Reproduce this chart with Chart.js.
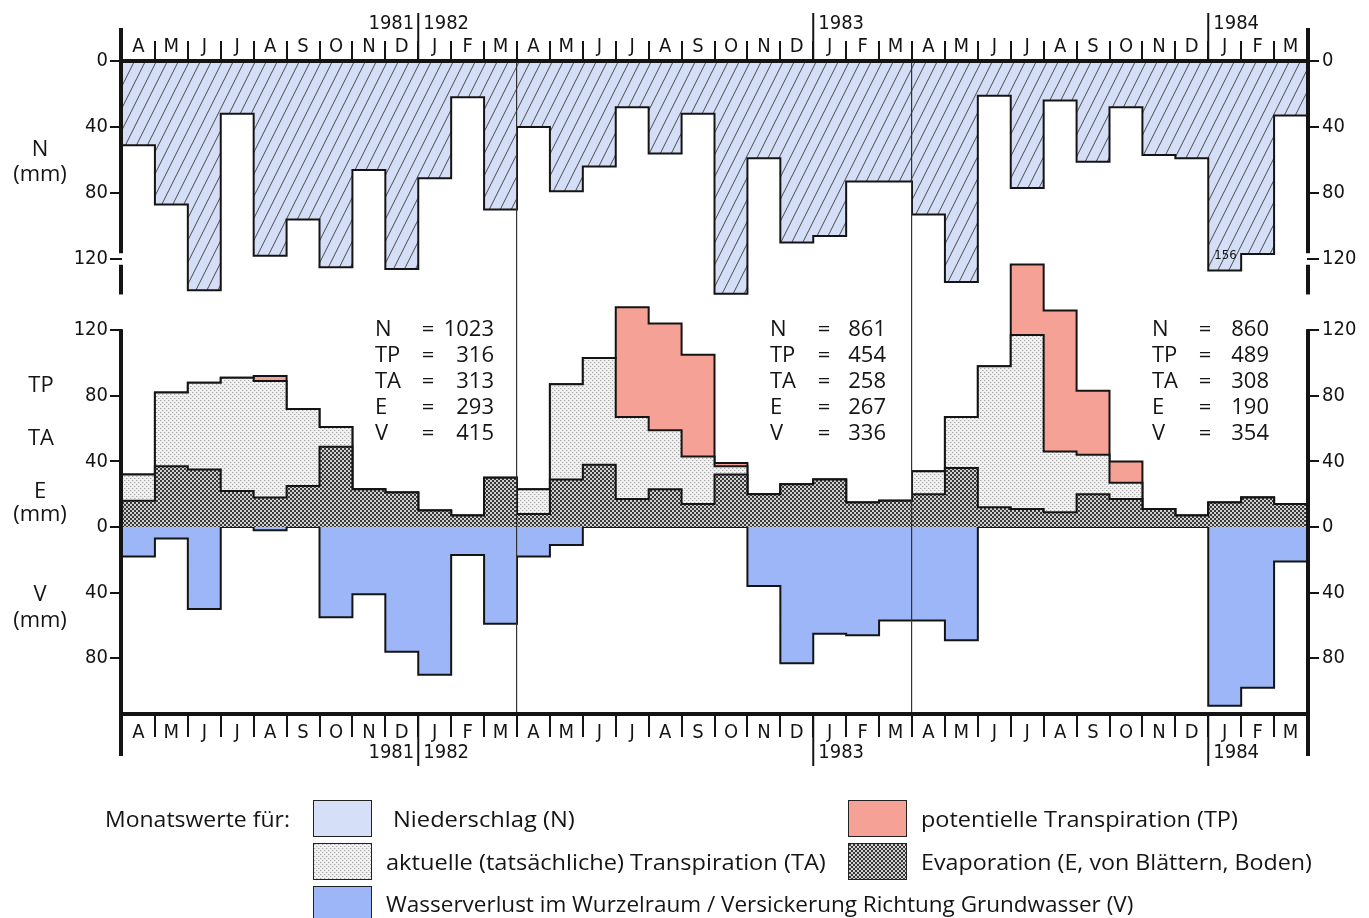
<!DOCTYPE html>
<html><head><meta charset="utf-8">
<script src="https://cdn.jsdelivr.net/npm/chart.js@4"></script>
<style>
html,body{margin:0;padding:0;background:#fff;}
#wrap{position:relative;width:1369px;height:918px;overflow:hidden;background:#fff;}
#c{position:absolute;left:0;top:0;}
.t{position:absolute;white-space:nowrap;font-family:'Open Sans','Noto Sans',sans-serif;font-size:22px;line-height:26px;color:#151515;transform:translateY(-50%);transform-origin:0 50%;}
.c{transform:translate(-50%,-50%);}
.r{transform:translate(-100%,-50%);}
.box{position:absolute;border:1.6px solid #222;box-sizing:border-box;}
</style></head>
<body><div id="wrap"><canvas id="c" width="1369" height="918"></canvas></div>
<script>
// ---------------- data (Apr 1981 ... Mar 1984, monthly, mm) ----------------
const monthLabels = ['A','M','J','J','A','S','O','N','D','J','F','M',
                     'A','M','J','J','A','S','O','N','D','J','F','M',
                     'A','M','J','J','A','S','O','N','D','J','F','M'];
const precipN  = [51,87,139,32,118,96,125,66,126,71,22,90,
                  40,79,64,28,56,32,141,59,110,106,73,73,
                  93,134,21,77,24,61,28,57,59,156,117,33];
const evapE    = [16,37,35,22,18,25,49,23,21,10,7,30,
                  8,29,38,17,23,14,32,20,26,29,15,16,
                  20,36,12,11,9,20,17,11,7,15,18,14];
const transpTA = [16,45,53,69,71,47,12,0,0,0,0,0,
                  15,58,65,50,36,29,5,0,0,0,0,0,
                  14,31,86,106,37,24,10,0,0,0,0,0];
const transpTP = [16,45,53,69,74,47,12,0,0,0,0,0,
                  15,58,65,117,101,91,7,0,0,0,0,0,
                  14,31,86,149,123,63,23,0,0,0,0,0];
const seepV    = [18,7,50,0,2,0,55,41,76,90,17,59,
                  18,11,0,0,0,0,0,36,83,65,66,57,
                  57,69,0,0,0,0,0,0,0,109,98,21];
const nTicks = [0,40,80,120];
const mTicks = [-80,-40,0,40,80,120];
const yearBounds = [{at:9, left:'1981', right:'1982'},{at:21, right:'1983'},{at:33, right:'1984'}];
const totals = [
  {N:'1023', TP:'316', TA:'313', E:'293', V:'415'},
  {N:'861',  TP:'454', TA:'258', E:'267', V:'336'},
  {N:'860',  TP:'489', TA:'308', E:'190', V:'354'}
];
const N_AXIS_END = 141.5;  // lower end of the N axis
const N_BREAK_CAP = 127;   // a bar beyond the axis end is cut here
// ---------------------------------------------------------------------------

function makeTile(w,h,draw){const c=document.createElement('canvas');c.width=w;c.height=h;draw(c.getContext('2d'));return c;}
const hatchTile = makeTile(11,22,g=>{
  g.fillStyle='#d4def6';g.fillRect(0,0,11,22);
  g.strokeStyle='#4a4a4a';g.lineWidth=1;
  for(const dx of [-11,0,11]){g.beginPath();g.moveTo(dx-0.5,23);g.lineTo(dx+11.5,-1);g.stroke();}
});
const eTile = makeTile(4,4,g=>{
  g.fillStyle='#d0d0d0';g.fillRect(0,0,4,4);
  g.fillStyle='#383838';g.fillRect(0,0,2,2);g.fillRect(2,2,2,2);
});
const taTile = makeTile(4,4,g=>{
  g.fillStyle='#f1f1f1';g.fillRect(0,0,4,4);
  g.fillStyle='#a8a8a8';g.fillRect(0,0,1,1);g.fillRect(2,2,1,1);
  g.fillStyle='#d4d4d4';g.fillRect(1,0,1,1);g.fillRect(3,2,1,1);
});
const ctx0 = document.getElementById('c').getContext('2d');
const hatch = ctx0.createPattern(hatchTile,'repeat');
const ePat = ctx0.createPattern(eTile,'repeat');
const taPat = ctx0.createPattern(taTile,'repeat');
const RED = '#f5a196', BLUE_V = '#9db6f7', BLUE_N = '#d5e0f8';

const stepData = arr => arr.map((v,i)=>({x:i,y:v})).concat([{x:arr.length,y:arr[arr.length-1]}]);
const nShown = precipN.map(v=>v>N_AXIS_END?N_BREAK_CAP:v);
const eTop  = evapE.slice();
const taTop = evapE.map((e,i)=>e+transpTA[i]);
const tpTop = evapE.map((e,i)=>e+transpTP[i]);
const vNeg  = seepV.map(v=>-v);

const base = {stepped:'before',pointRadius:0,pointHoverRadius:0,borderColor:'#141414',borderWidth:2,
              borderJoinStyle:'miter',borderCapStyle:'butt',xAxisID:'x'};
const tickFont = {family:"'DejaVu Sans Condensed','Liberation Sans',sans-serif",size:20};
const INK = '#141414';
const AXIS_W = 60;

// N axis: 0 at the top edge, 1.65 px/mm ; M axis (TP/TA/E up, V down): 0 at 527, 1.64 px/mm
function yAxis(pos, isN){
  return {
    type:'linear', position:pos, weight:isN?1:0,
    reverse:isN, min:isN?0:-114, max:isN?395.76:284.1,
    afterBuildTicks:s=>{s.ticks=(isN?nTicks:mTicks).map(v=>({value:v}));},
    afterFit:s=>{s.width=isN?AXIS_W:0;},
    border:{display:false},
    grid:{drawOnChartArea:false,drawTicks:true,tickLength:12,color:INK,lineWidth:2},
    ticks:{font:tickFont,color:INK,padding:pos==='left'?2:3,callback:v=>Math.abs(v)}
  };
}

// the two value axes share one side: widen the inner (zero-width) one so its labels are not clipped
const shareSide = {
  id:'shareSide',
  afterLayout(chart){
    const sL=chart.scales.yM, sR=chart.scales.yM2;
    sL.left=sL.right-AXIS_W; sL.width=AXIS_W;
    sR.right=sR.left+AXIS_W; sR.width=AXIS_W;
  }
};

const decor = {
  id:'decor',
  afterDraw(chart){
    const {ctx, chartArea:a, scales} = chart;
    const x=scales.x, yN=scales.yN, yM=scales.yM;
    const L=(x1,y1,x2,y2,w)=>{ctx.lineWidth=w;ctx.beginPath();ctx.moveTo(x1,y1);ctx.lineTo(x2,y2);ctx.stroke();};
    ctx.save();
    ctx.strokeStyle=INK; ctx.fillStyle=INK; ctx.lineCap='butt';
    const y0N=yN.getPixelForValue(0);
    L(a.left-3,y0N,a.right+3,y0N,4);
    L(a.left-3,a.bottom,a.right+3,a.bottom,4);
    const b1=yN.getPixelForValue(116.5), b2=yN.getPixelForValue(123.5), bEnd=yN.getPixelForValue(N_AXIS_END);
    for(const xx of [a.left-1,a.right+1]){
      L(xx,28,xx,b1,4); L(xx,b2,xx,bEnd,4);
      L(xx,yM.getPixelForValue(120)-1,xx,756,4);
    }
    ctx.font = "20px 'DejaVu Sans Condensed','Liberation Sans',sans-serif";
    ctx.textBaseline='middle';
    for(const yb of yearBounds){
      const px=x.getPixelForValue(yb.at);
      L(px,13,px,y0N,2);
      L(px,a.bottom,px,766,2);
      if(yb.left){ctx.textAlign='right';ctx.fillText(yb.left,px-4,24);ctx.fillText(yb.left,px-4,753);}
      if(yb.right){ctx.textAlign='left';ctx.fillText(yb.right,px+5,24);ctx.fillText(yb.right,px+5,753);}
    }
    const iCut = precipN.findIndex(v=>v>N_AXIS_END);
    if(iCut>=0){
      ctx.font="13px 'DejaVu Sans Condensed','Liberation Sans',sans-serif";
      ctx.textAlign='left';
      ctx.fillText(String(precipN[iCut]), x.getPixelForValue(iCut)+6, yN.getPixelForValue(118));
    }
    ctx.restore();
  }
};

new Chart(ctx0,{
  type:'line',
  data:{datasets:[
    {...base, label:'N', data:stepData(nShown), yAxisID:'yN', fill:'origin', backgroundColor:hatch},
    {...base, label:'E', data:stepData(eTop), yAxisID:'yM', fill:'origin', backgroundColor:ePat},
    {...base, label:'TA', data:stepData(taTop), yAxisID:'yM', fill:'-1', backgroundColor:taPat},
    {...base, label:'TP', data:stepData(tpTop), yAxisID:'yM', fill:'-1', backgroundColor:RED},
    {...base, label:'V', data:stepData(vNeg), yAxisID:'yM', fill:'origin', backgroundColor:BLUE_V}
  ]},
  options:{
    responsive:false, animation:false, events:[],
    layout:{padding:{left:62,right:2,top:36,bottom:918-714-31}},
    plugins:{legend:{display:false},tooltip:{enabled:false}},
    scales:{
      x:{type:'linear',min:0,max:36,position:'bottom',
         afterBuildTicks:s=>{s.ticks=[12,24].map(v=>({value:v}));},
         afterFit:s=>{s.height=0;},
         ticks:{display:false},border:{display:false},
         grid:{drawTicks:false,color:'#333',lineWidth:1.2,z:1}},
      xt:{type:'category',labels:monthLabels,position:'top',offset:true,
         afterFit:s=>{s.height=25;},
         border:{display:false},
         grid:{offset:true,drawOnChartArea:false,drawTicks:true,tickLength:20,color:INK,lineWidth:2},
         ticks:{font:tickFont,color:INK,padding:-18,autoSkip:false,maxRotation:0}},
      xb:{type:'category',labels:monthLabels,position:'bottom',offset:true,
         afterFit:s=>{s.height=31;},
         border:{display:false},
         grid:{offset:true,drawOnChartArea:false,drawTicks:true,tickLength:23,color:INK,lineWidth:2},
         ticks:{font:tickFont,color:INK,padding:-16,autoSkip:false,maxRotation:0}},
      yN:yAxis('left',true),
      yM:yAxis('left',false),
      yN2:yAxis('right',true),
      yM2:yAxis('right',false)
    }
  },
  plugins:[shareSide,decor]
});

// ---------------- HTML text ----------------
const wrap=document.getElementById('wrap');
function txt(s,x,y,cls,w){
  const d=document.createElement('div');d.className='t'+(cls?' '+cls:'');d.textContent=s;
  d.style.left=x+'px';d.style.top=y+'px';wrap.appendChild(d);
  if(w){const k=w/d.offsetWidth;d.style.transform='translateY(-50%) scaleX('+k.toFixed(3)+')';}
  return d;
}
function box(x,y,w,h,bg){const d=document.createElement('div');d.className='box';Object.assign(d.style,{left:x+'px',top:y+'px',width:w+'px',height:h+'px',background:bg});wrap.appendChild(d);}

txt('N',40,147,'c'); txt('(mm)',40,172,'c');
txt('TP',41,383,'c'); txt('TA',41,436,'c'); txt('E',40,489,'c'); txt('(mm)',40,512,'c');
txt('V',40,592,'c'); txt('(mm)',40,618,'c');

const rowKeys=['N','TP','TA','E','V'], rowY=[327,353,379,405,431];
const blocks=[{l:375,eq:428,r:494},{l:770,eq:824,r:886},{l:1152,eq:1205,r:1269}];
blocks.forEach((b,k)=>{
  rowKeys.forEach((key,j)=>{
    txt(key,b.l,rowY[j]);
    txt('=',b.eq,rowY[j],'c');
    txt(totals[k][key],b.r,rowY[j],'r');
  });
});

txt('Monatswerte für:',105,818,'',185);
box(313,800,59,37,BLUE_N);
box(313,843,59,37,'url('+taTile.toDataURL()+') repeat');
box(313,886,59,40,BLUE_V);
box(848,800,59,37,RED);
box(848,843,59,37,'url('+eTile.toDataURL()+') repeat');
txt('Niederschlag (N)',393,818,'',182);
txt('aktuelle (tatsächliche) Transpiration (TA)',386,861,'',440);
txt('Wasserverlust im Wurzelraum / Versickerung Richtung Grundwasser (V)',386,903,'',748);
txt('potentielle Transpiration (TP)',921,818,'',317);
txt('Evaporation (E, von Blättern, Boden)',921,861,'',391);
</script>
</body></html>
